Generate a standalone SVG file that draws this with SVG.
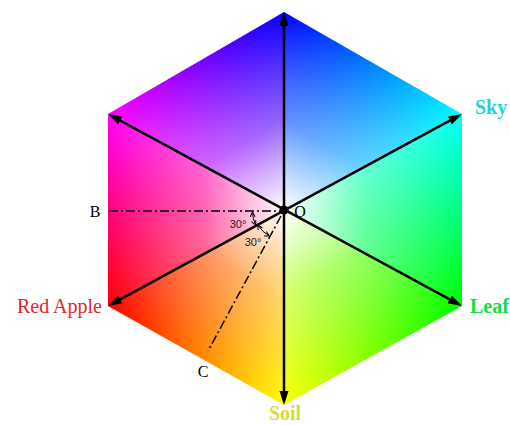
<svg xmlns="http://www.w3.org/2000/svg" width="510" height="425" viewBox="0 0 510 425">
<style>
.w{stop-color:#ffffff}
.ax{stroke:#000;stroke-width:2.5;fill:none;marker-start:url(#ah);marker-end:url(#ah)}
.dd{stroke:#000;stroke-width:1.5;fill:none;stroke-dasharray:9 3 2 3}
.arc{stroke:#000;stroke-width:1;fill:none;marker-start:url(#sa);marker-end:url(#sa)}
.lbl{font-family:"Liberation Serif","Times New Roman",serif;font-size:20px}
.pt{font-family:"Liberation Serif","Times New Roman",serif;font-size:16px;fill:#000}
.deg{font-family:"Liberation Sans",Arial,sans-serif;font-size:11px;fill:#222}
</style>
<defs>
<marker id="ah" markerUnits="userSpaceOnUse" markerWidth="15" markerHeight="10" refX="10" refY="5" orient="auto-start-reverse"><path d="M0,0.5 L14,5 L0,9.5 z" fill="#000"/></marker>
<marker id="sa" markerUnits="userSpaceOnUse" markerWidth="6" markerHeight="6" refX="5" refY="3" orient="auto-start-reverse"><path d="M0,0.5 L5,3 L0,5.5" fill="none" stroke="#000" stroke-width="1"/></marker>
<linearGradient id="g0" gradientUnits="userSpaceOnUse" x1="284" y1="12" x2="462" y2="114"><stop offset="0" stop-color="#0000ff"/><stop offset="1" stop-color="#00ffff"/></linearGradient>
<linearGradient id="g1" gradientUnits="userSpaceOnUse" x1="462" y1="114" x2="462" y2="306"><stop offset="0" stop-color="#00ffff"/><stop offset="1" stop-color="#00ff00"/></linearGradient>
<linearGradient id="g2" gradientUnits="userSpaceOnUse" x1="462" y1="306" x2="284" y2="405"><stop offset="0" stop-color="#00ff00"/><stop offset="1" stop-color="#ffff00"/></linearGradient>
<linearGradient id="g3" gradientUnits="userSpaceOnUse" x1="284" y1="405" x2="108" y2="306"><stop offset="0" stop-color="#ffff00"/><stop offset="1" stop-color="#ff0000"/></linearGradient>
<linearGradient id="g4" gradientUnits="userSpaceOnUse" x1="108" y1="306" x2="108" y2="114"><stop offset="0" stop-color="#ff0000"/><stop offset="1" stop-color="#ff00ff"/></linearGradient>
<linearGradient id="g5" gradientUnits="userSpaceOnUse" x1="108" y1="114" x2="284" y2="12"><stop offset="0" stop-color="#ff00ff"/><stop offset="1" stop-color="#0000ff"/></linearGradient>
<linearGradient id="w0" gradientUnits="userSpaceOnUse" x1="284" y1="210" x2="373" y2="63"><stop offset="0" class="w" stop-opacity="1"/><stop offset="0.45" class="w" stop-opacity="0.4"/><stop offset="1" class="w" stop-opacity="0"/></linearGradient>
<linearGradient id="w1" gradientUnits="userSpaceOnUse" x1="284" y1="210" x2="462" y2="210"><stop offset="0" class="w" stop-opacity="1"/><stop offset="0.45" class="w" stop-opacity="0.4"/><stop offset="1" class="w" stop-opacity="0"/></linearGradient>
<linearGradient id="w2" gradientUnits="userSpaceOnUse" x1="284" y1="210" x2="373" y2="355.5"><stop offset="0" class="w" stop-opacity="1"/><stop offset="0.45" class="w" stop-opacity="0.4"/><stop offset="1" class="w" stop-opacity="0"/></linearGradient>
<linearGradient id="w3" gradientUnits="userSpaceOnUse" x1="284" y1="210" x2="196" y2="355.5"><stop offset="0" class="w" stop-opacity="1"/><stop offset="0.45" class="w" stop-opacity="0.4"/><stop offset="1" class="w" stop-opacity="0"/></linearGradient>
<linearGradient id="w4" gradientUnits="userSpaceOnUse" x1="284" y1="210" x2="108" y2="210"><stop offset="0" class="w" stop-opacity="1"/><stop offset="0.45" class="w" stop-opacity="0.4"/><stop offset="1" class="w" stop-opacity="0"/></linearGradient>
<linearGradient id="w5" gradientUnits="userSpaceOnUse" x1="284" y1="210" x2="196" y2="63"><stop offset="0" class="w" stop-opacity="1"/><stop offset="0.45" class="w" stop-opacity="0.4"/><stop offset="1" class="w" stop-opacity="0"/></linearGradient>
</defs>
<rect width="510" height="425" fill="#ffffff"/>
<g id="hexagon">
<path d="M284,210 L284,12 L462,114 Z" fill="url(#g0)"/>
<path d="M284,210 L462,114 L462,306 Z" fill="url(#g1)"/>
<path d="M284,210 L462,306 L284,405 Z" fill="url(#g2)"/>
<path d="M284,210 L284,405 L108,306 Z" fill="url(#g3)"/>
<path d="M284,210 L108,306 L108,114 Z" fill="url(#g4)"/>
<path d="M284,210 L108,114 L284,12 Z" fill="url(#g5)"/>
<path d="M284,210 L284,12 L462,114 Z" fill="url(#w0)"/>
<path d="M284,210 L462,114 L462,306 Z" fill="url(#w1)"/>
<path d="M284,210 L462,306 L284,405 Z" fill="url(#w2)"/>
<path d="M284,210 L284,405 L108,306 Z" fill="url(#w3)"/>
<path d="M284,210 L108,306 L108,114 Z" fill="url(#w4)"/>
<path d="M284,210 L108,114 L284,12 Z" fill="url(#w5)"/>
</g>
<g id="connectors">
<line class="ax" x1="284" y1="16" x2="284" y2="401"/>
<line class="ax" x1="111.5" y1="115.9" x2="458.5" y2="304.1"/>
<line class="ax" x1="458.5" y1="115.9" x2="111.5" y2="304.1"/>
<line class="dd" x1="109" y1="211" x2="280" y2="211"/>
<line class="dd" x1="281" y1="216" x2="208" y2="351"/>
<path class="arc" d="M252.5,212 A32,32 0 0 0 255.7,225"/>
<path class="arc" d="M257.8,225 A30,30 0 0 0 269.5,236"/>
</g>
<g id="O"><circle cx="284" cy="210" r="4.5" fill="#000"/><text class="pt" x="300" y="217" text-anchor="middle">O</text></g>
<g id="B"><text class="pt" x="95" y="217" text-anchor="middle">B</text></g>
<g id="C"><text class="pt" x="203" y="377" text-anchor="middle">C</text></g>
<g id="angles"><text class="deg" x="238" y="228" text-anchor="middle">30°</text><text class="deg" x="253" y="246" text-anchor="middle">30°</text></g>
<g id="sky"><text class="lbl" x="475" y="114" fill="#22d4d6" font-weight="bold">Sky</text></g>
<g id="leaf"><text class="lbl" x="470" y="313" fill="#12e040" font-weight="bold">Leaf</text></g>
<g id="soil"><text class="lbl" x="285" y="420" fill="#d6dc30" text-anchor="middle" font-weight="bold" font-size="19">Soil</text></g>
<g id="redapple"><text class="lbl" x="102" y="313" fill="#e02828" text-anchor="end">Red Apple</text></g>
</svg>
